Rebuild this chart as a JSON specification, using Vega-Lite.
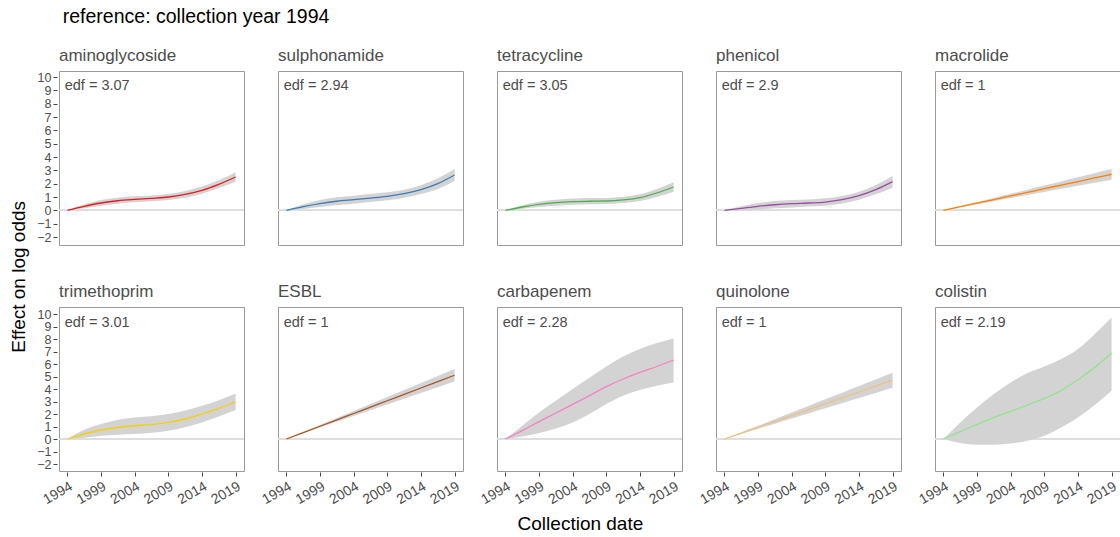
{
  "$schema": "https://vega.github.io/schema/vega-lite/v6.json",
  "background": "white",
  "padding": {"left": 9, "top": 6, "right": 0, "bottom": 0},
  "config": {
    "font": "Liberation Sans",
    "view": {"stroke": "#9a9a9a", "strokeWidth": 1},
    "axis": {"grid": false, "domain": false, "tickColor": "#444444", "labelColor": "#4d4d4d", "labelFontSize": 14, "tickSize": 4, "labelPadding": 2, "labelOverlap": false, "labelBound": false, "labelFlush": false, "tickCount": 30, "format": "d"},
    "axisX": {"labelAngle": -30, "labelAlign": "right", "labelBaseline": "top", "labelPadding": 3},
    "axisY": {"labelFontSize": 12.5},
    "header": {"labelFontSize": 17, "labelColor": "#4d4d4d", "labelAnchor": "start", "labelPadding": 5},
    "title": {"fontWeight": "normal", "color": "#000000"}
  },
  "title": {"text": "reference: collection year 1994", "anchor": "start", "fontSize": 19.5, "dx": 53, "offset": 20},
  "datasets": {
    "d": [
      {"drug": "aminoglycoside", "edf": "edf = 3.07"},
      {"drug": "sulphonamide", "edf": "edf = 2.94"},
      {"drug": "tetracycline", "edf": "edf = 3.05"},
      {"drug": "phenicol", "edf": "edf = 2.9"},
      {"drug": "macrolide", "edf": "edf = 1"},
      {"drug": "trimethoprim", "edf": "edf = 3.01"},
      {"drug": "ESBL", "edf": "edf = 1"},
      {"drug": "carbapenem", "edf": "edf = 2.28"},
      {"drug": "quinolone", "edf": "edf = 1"},
      {"drug": "colistin", "edf": "edf = 2.19"},

      {"drug": "aminoglycoside", "year": 1994, "fit": 0, "lo": 0, "hi": 0},
      {"drug": "aminoglycoside", "year": 1996.5, "fit": 0.3, "lo": 0.15, "hi": 0.45},
      {"drug": "aminoglycoside", "year": 1999, "fit": 0.55, "lo": 0.35, "hi": 0.78},
      {"drug": "aminoglycoside", "year": 2001.5, "fit": 0.72, "lo": 0.5, "hi": 0.95},
      {"drug": "aminoglycoside", "year": 2004, "fit": 0.82, "lo": 0.6, "hi": 1.05},
      {"drug": "aminoglycoside", "year": 2006.5, "fit": 0.9, "lo": 0.68, "hi": 1.12},
      {"drug": "aminoglycoside", "year": 2009, "fit": 1.0, "lo": 0.78, "hi": 1.22},
      {"drug": "aminoglycoside", "year": 2011.5, "fit": 1.2, "lo": 0.95, "hi": 1.45},
      {"drug": "aminoglycoside", "year": 2014, "fit": 1.5, "lo": 1.25, "hi": 1.78},
      {"drug": "aminoglycoside", "year": 2016.5, "fit": 1.95, "lo": 1.68, "hi": 2.25},
      {"drug": "aminoglycoside", "year": 2019, "fit": 2.5, "lo": 2.15, "hi": 2.85},

      {"drug": "sulphonamide", "year": 1994, "fit": 0, "lo": 0, "hi": 0},
      {"drug": "sulphonamide", "year": 1996.5, "fit": 0.27, "lo": 0.1, "hi": 0.45},
      {"drug": "sulphonamide", "year": 1999, "fit": 0.5, "lo": 0.25, "hi": 0.78},
      {"drug": "sulphonamide", "year": 2001.5, "fit": 0.68, "lo": 0.4, "hi": 0.98},
      {"drug": "sulphonamide", "year": 2004, "fit": 0.8, "lo": 0.5, "hi": 1.1},
      {"drug": "sulphonamide", "year": 2006.5, "fit": 0.92, "lo": 0.62, "hi": 1.22},
      {"drug": "sulphonamide", "year": 2009, "fit": 1.05, "lo": 0.75, "hi": 1.35},
      {"drug": "sulphonamide", "year": 2011.5, "fit": 1.25, "lo": 0.95, "hi": 1.55},
      {"drug": "sulphonamide", "year": 2014, "fit": 1.55, "lo": 1.22, "hi": 1.88},
      {"drug": "sulphonamide", "year": 2016.5, "fit": 2.0, "lo": 1.6, "hi": 2.4},
      {"drug": "sulphonamide", "year": 2019, "fit": 2.65, "lo": 2.2, "hi": 3.1},

      {"drug": "tetracycline", "year": 1994, "fit": 0, "lo": 0, "hi": 0},
      {"drug": "tetracycline", "year": 1996.5, "fit": 0.25, "lo": 0.12, "hi": 0.38},
      {"drug": "tetracycline", "year": 1999, "fit": 0.45, "lo": 0.25, "hi": 0.65},
      {"drug": "tetracycline", "year": 2001.5, "fit": 0.58, "lo": 0.35, "hi": 0.8},
      {"drug": "tetracycline", "year": 2004, "fit": 0.65, "lo": 0.42, "hi": 0.88},
      {"drug": "tetracycline", "year": 2006.5, "fit": 0.68, "lo": 0.45, "hi": 0.92},
      {"drug": "tetracycline", "year": 2009, "fit": 0.7, "lo": 0.48, "hi": 0.93},
      {"drug": "tetracycline", "year": 2011.5, "fit": 0.78, "lo": 0.55, "hi": 1.02},
      {"drug": "tetracycline", "year": 2014, "fit": 0.95, "lo": 0.7, "hi": 1.2},
      {"drug": "tetracycline", "year": 2016.5, "fit": 1.3, "lo": 1.0, "hi": 1.6},
      {"drug": "tetracycline", "year": 2019, "fit": 1.75, "lo": 1.4, "hi": 2.1},

      {"drug": "phenicol", "year": 1994, "fit": 0, "lo": 0, "hi": 0},
      {"drug": "phenicol", "year": 1996.5, "fit": 0.15, "lo": 0.0, "hi": 0.3},
      {"drug": "phenicol", "year": 1999, "fit": 0.3, "lo": 0.05, "hi": 0.55},
      {"drug": "phenicol", "year": 2001.5, "fit": 0.42, "lo": 0.15, "hi": 0.7},
      {"drug": "phenicol", "year": 2004, "fit": 0.5, "lo": 0.22, "hi": 0.78},
      {"drug": "phenicol", "year": 2006.5, "fit": 0.55, "lo": 0.28, "hi": 0.82},
      {"drug": "phenicol", "year": 2009, "fit": 0.62, "lo": 0.35, "hi": 0.9},
      {"drug": "phenicol", "year": 2011.5, "fit": 0.8, "lo": 0.52, "hi": 1.08},
      {"drug": "phenicol", "year": 2014, "fit": 1.1, "lo": 0.8, "hi": 1.4},
      {"drug": "phenicol", "year": 2016.5, "fit": 1.55, "lo": 1.2, "hi": 1.9},
      {"drug": "phenicol", "year": 2019, "fit": 2.15, "lo": 1.7, "hi": 2.6},

      {"drug": "macrolide", "year": 1994, "fit": 0, "lo": 0, "hi": 0},
      {"drug": "macrolide", "year": 1996.5, "fit": 0.27, "lo": 0.23, "hi": 0.31},
      {"drug": "macrolide", "year": 1999, "fit": 0.54, "lo": 0.46, "hi": 0.62},
      {"drug": "macrolide", "year": 2001.5, "fit": 0.81, "lo": 0.69, "hi": 0.93},
      {"drug": "macrolide", "year": 2004, "fit": 1.08, "lo": 0.92, "hi": 1.24},
      {"drug": "macrolide", "year": 2006.5, "fit": 1.35, "lo": 1.15, "hi": 1.55},
      {"drug": "macrolide", "year": 2009, "fit": 1.62, "lo": 1.38, "hi": 1.86},
      {"drug": "macrolide", "year": 2011.5, "fit": 1.89, "lo": 1.61, "hi": 2.17},
      {"drug": "macrolide", "year": 2014, "fit": 2.16, "lo": 1.84, "hi": 2.48},
      {"drug": "macrolide", "year": 2016.5, "fit": 2.43, "lo": 2.07, "hi": 2.79},
      {"drug": "macrolide", "year": 2019, "fit": 2.7, "lo": 2.3, "hi": 3.1},

      {"drug": "trimethoprim", "year": 1994, "fit": 0, "lo": 0, "hi": 0},
      {"drug": "trimethoprim", "year": 1996.5, "fit": 0.4, "lo": 0.1, "hi": 0.75},
      {"drug": "trimethoprim", "year": 1999, "fit": 0.72, "lo": 0.27, "hi": 1.2},
      {"drug": "trimethoprim", "year": 2001.5, "fit": 0.92, "lo": 0.35, "hi": 1.55},
      {"drug": "trimethoprim", "year": 2004, "fit": 1.06, "lo": 0.4, "hi": 1.73},
      {"drug": "trimethoprim", "year": 2006.5, "fit": 1.15, "lo": 0.5, "hi": 1.82},
      {"drug": "trimethoprim", "year": 2009, "fit": 1.33, "lo": 0.67, "hi": 2.0},
      {"drug": "trimethoprim", "year": 2011.5, "fit": 1.6, "lo": 0.95, "hi": 2.28},
      {"drug": "trimethoprim", "year": 2014, "fit": 2.0, "lo": 1.33, "hi": 2.66},
      {"drug": "trimethoprim", "year": 2016.5, "fit": 2.45, "lo": 1.8, "hi": 3.1},
      {"drug": "trimethoprim", "year": 2019, "fit": 2.98, "lo": 2.32, "hi": 3.65},

      {"drug": "ESBL", "year": 1994, "fit": 0, "lo": 0, "hi": 0},
      {"drug": "ESBL", "year": 1996.5, "fit": 0.51, "lo": 0.46, "hi": 0.56},
      {"drug": "ESBL", "year": 1999, "fit": 1.02, "lo": 0.92, "hi": 1.12},
      {"drug": "ESBL", "year": 2001.5, "fit": 1.53, "lo": 1.38, "hi": 1.68},
      {"drug": "ESBL", "year": 2004, "fit": 2.04, "lo": 1.84, "hi": 2.24},
      {"drug": "ESBL", "year": 2006.5, "fit": 2.55, "lo": 2.3, "hi": 2.8},
      {"drug": "ESBL", "year": 2009, "fit": 3.06, "lo": 2.76, "hi": 3.36},
      {"drug": "ESBL", "year": 2011.5, "fit": 3.57, "lo": 3.22, "hi": 3.92},
      {"drug": "ESBL", "year": 2014, "fit": 4.08, "lo": 3.68, "hi": 4.48},
      {"drug": "ESBL", "year": 2016.5, "fit": 4.59, "lo": 4.14, "hi": 5.04},
      {"drug": "ESBL", "year": 2019, "fit": 5.1, "lo": 4.6, "hi": 5.6},

      {"drug": "carbapenem", "year": 1994, "fit": 0, "lo": 0, "hi": 0},
      {"drug": "carbapenem", "year": 1996.5, "fit": 0.67, "lo": 0.2, "hi": 1.07},
      {"drug": "carbapenem", "year": 1999, "fit": 1.39, "lo": 0.48, "hi": 2.13},
      {"drug": "carbapenem", "year": 2001.5, "fit": 2.08, "lo": 0.85, "hi": 3.07},
      {"drug": "carbapenem", "year": 2004, "fit": 2.77, "lo": 1.33, "hi": 4.0},
      {"drug": "carbapenem", "year": 2006.5, "fit": 3.47, "lo": 2.0, "hi": 4.9},
      {"drug": "carbapenem", "year": 2009, "fit": 4.19, "lo": 2.8, "hi": 5.8},
      {"drug": "carbapenem", "year": 2011.5, "fit": 4.8, "lo": 3.47, "hi": 6.6},
      {"drug": "carbapenem", "year": 2014, "fit": 5.33, "lo": 3.92, "hi": 7.2},
      {"drug": "carbapenem", "year": 2016.5, "fit": 5.8, "lo": 4.27, "hi": 7.68},
      {"drug": "carbapenem", "year": 2019, "fit": 6.32, "lo": 4.53, "hi": 8.05},

      {"drug": "quinolone", "year": 1994, "fit": 0, "lo": 0, "hi": 0},
      {"drug": "quinolone", "year": 1996.5, "fit": 0.47, "lo": 0.41, "hi": 0.53},
      {"drug": "quinolone", "year": 1999, "fit": 0.94, "lo": 0.82, "hi": 1.06},
      {"drug": "quinolone", "year": 2001.5, "fit": 1.41, "lo": 1.23, "hi": 1.59},
      {"drug": "quinolone", "year": 2004, "fit": 1.88, "lo": 1.64, "hi": 2.12},
      {"drug": "quinolone", "year": 2006.5, "fit": 2.35, "lo": 2.05, "hi": 2.65},
      {"drug": "quinolone", "year": 2009, "fit": 2.82, "lo": 2.46, "hi": 3.18},
      {"drug": "quinolone", "year": 2011.5, "fit": 3.29, "lo": 2.87, "hi": 3.71},
      {"drug": "quinolone", "year": 2014, "fit": 3.76, "lo": 3.28, "hi": 4.24},
      {"drug": "quinolone", "year": 2016.5, "fit": 4.23, "lo": 3.69, "hi": 4.77},
      {"drug": "quinolone", "year": 2019, "fit": 4.7, "lo": 4.1, "hi": 5.3},

      {"drug": "colistin", "year": 1994, "fit": 0, "lo": 0, "hi": 0},
      {"drug": "colistin", "year": 1996.5, "fit": 0.59, "lo": -0.32, "hi": 1.33},
      {"drug": "colistin", "year": 1999, "fit": 1.17, "lo": -0.45, "hi": 2.53},
      {"drug": "colistin", "year": 2001.5, "fit": 1.73, "lo": -0.45, "hi": 3.6},
      {"drug": "colistin", "year": 2004, "fit": 2.21, "lo": -0.35, "hi": 4.53},
      {"drug": "colistin", "year": 2006.5, "fit": 2.72, "lo": -0.13, "hi": 5.28},
      {"drug": "colistin", "year": 2009, "fit": 3.25, "lo": 0.27, "hi": 5.81},
      {"drug": "colistin", "year": 2011.5, "fit": 3.87, "lo": 0.93, "hi": 6.4},
      {"drug": "colistin", "year": 2014, "fit": 4.75, "lo": 1.73, "hi": 7.2},
      {"drug": "colistin", "year": 2016.5, "fit": 5.73, "lo": 2.72, "hi": 8.4},
      {"drug": "colistin", "year": 2019, "fit": 6.88, "lo": 3.87, "hi": 9.73}
    ]
  },
  "data": {"name": "d"},
  "vconcat": [
    {
      "title": {"text": "Collection date", "orient": "bottom", "fontSize": 19, "anchor": "middle", "dx": 15, "offset": 8},
      "vconcat": [
        {
          "title": {"text": "Effect on log odds", "orient": "left", "fontSize": 19, "anchor": "middle", "offset": 8},
          "spacing": 37,
          "vconcat": [
            {
              "transform": [{"filter": {"field": "drug", "oneOf": ["aminoglycoside", "sulphonamide", "tetracycline", "phenicol", "macrolide"]}}],
              "facet": {"column": {"field": "drug", "type": "nominal", "sort": ["aminoglycoside", "sulphonamide", "tetracycline", "phenicol", "macrolide"], "header": {"title": null}}},
              "spacing": 30,
              "spec": {
                "width": 185,
                "height": 174,
                "layer": [
                  {
                    "mark": {"type": "rule", "color": "#dedede", "strokeWidth": 1.2},
                    "encoding": {"y": {"datum": 0, "type": "quantitative", "scale": {"domain": [-2.6, 10.45], "nice": false, "zero": false}, "axis": {"values": [-2, -1, 0, 1, 2, 3, 4, 5, 6, 7, 8, 9, 10], "tickCount": 30, "format": "d", "title": null}}}
                  },
                  {
                    "transform": [{"filter": "isValid(datum.year)"}],
                    "mark": {"type": "area", "color": "#d3d3d3", "opacity": 1, "interpolate": "monotone"},
                    "encoding": {
                      "x": {"field": "year", "type": "quantitative", "scale": {"domain": [1992.75, 2020.25], "nice": false, "zero": false}, "axis": null},
                      "y": {"field": "lo", "type": "quantitative", "title": null},
                      "y2": {"field": "hi"}
                    }
                  },
                  {
                    "transform": [{"filter": "isValid(datum.year)"}],
                    "mark": {"type": "line", "strokeWidth": 1.3, "interpolate": "monotone"},
                    "encoding": {
                      "x": {"field": "year", "type": "quantitative", "axis": null},
                      "y": {"field": "fit", "type": "quantitative", "title": null},
                      "color": {"field": "drug", "type": "nominal", "legend": null, "scale": {"domain": ["aminoglycoside", "sulphonamide", "tetracycline", "phenicol", "macrolide", "trimethoprim", "ESBL", "carbapenem", "quinolone", "colistin"], "range": ["#E41A1C", "#377EB8", "#4DAF4A", "#984EA3", "#FF7F00", "#F5CF0A", "#A65628", "#F781BF", "#EDC27E", "#90E68A"]}}
                    }
                  },
                  {
                    "transform": [{"filter": "isValid(datum.edf)"}],
                    "mark": {"type": "text", "align": "left", "baseline": "top", "fontSize": 14.5, "color": "#4d4d4d", "dy": 2},
                    "encoding": {
                      "x": {"datum": 1993.6, "type": "quantitative"},
                      "y": {"datum": 10, "type": "quantitative"},
                      "text": {"field": "edf"}
                    }
                  }
                ]
              }
            },
            {
              "transform": [{"filter": {"field": "drug", "oneOf": ["trimethoprim", "ESBL", "carbapenem", "quinolone", "colistin"]}}],
              "facet": {"column": {"field": "drug", "type": "nominal", "sort": ["trimethoprim", "ESBL", "carbapenem", "quinolone", "colistin"], "header": {"title": null}}},
              "spacing": 30,
              "spec": {
                "width": 185,
                "height": 164,
                "layer": [
                  {
                    "mark": {"type": "rule", "color": "#dedede", "strokeWidth": 1.2},
                    "encoding": {"y": {"datum": 0, "type": "quantitative", "scale": {"domain": [-2.56, 10.56], "nice": false, "zero": false}, "axis": {"values": [-2, -1, 0, 1, 2, 3, 4, 5, 6, 7, 8, 9, 10], "tickCount": 30, "format": "d", "title": null}}}
                  },
                  {
                    "transform": [{"filter": "isValid(datum.year)"}],
                    "mark": {"type": "area", "color": "#d3d3d3", "opacity": 1, "interpolate": "monotone"},
                    "encoding": {
                      "x": {"field": "year", "type": "quantitative", "scale": {"domain": [1992.75, 2020.25], "nice": false, "zero": false}, "axis": {"values": [1994, 1999, 2004, 2009, 2014, 2019], "tickCount": 30, "format": "d", "title": null}},
                      "y": {"field": "lo", "type": "quantitative", "title": null},
                      "y2": {"field": "hi"}
                    }
                  },
                  {
                    "transform": [{"filter": "isValid(datum.year)"}],
                    "mark": {"type": "line", "strokeWidth": 1.3, "interpolate": "monotone"},
                    "encoding": {
                      "x": {"field": "year", "type": "quantitative", "title": null},
                      "y": {"field": "fit", "type": "quantitative", "title": null},
                      "color": {"field": "drug", "type": "nominal", "legend": null}
                    }
                  },
                  {
                    "transform": [{"filter": "isValid(datum.edf)"}],
                    "mark": {"type": "text", "align": "left", "baseline": "top", "fontSize": 14.5, "color": "#4d4d4d", "dy": 2},
                    "encoding": {
                      "x": {"datum": 1993.6, "type": "quantitative"},
                      "y": {"datum": 10, "type": "quantitative"},
                      "text": {"field": "edf"}
                    }
                  }
                ]
              }
            }
          ]
        }
      ]
    }
  ]
}
